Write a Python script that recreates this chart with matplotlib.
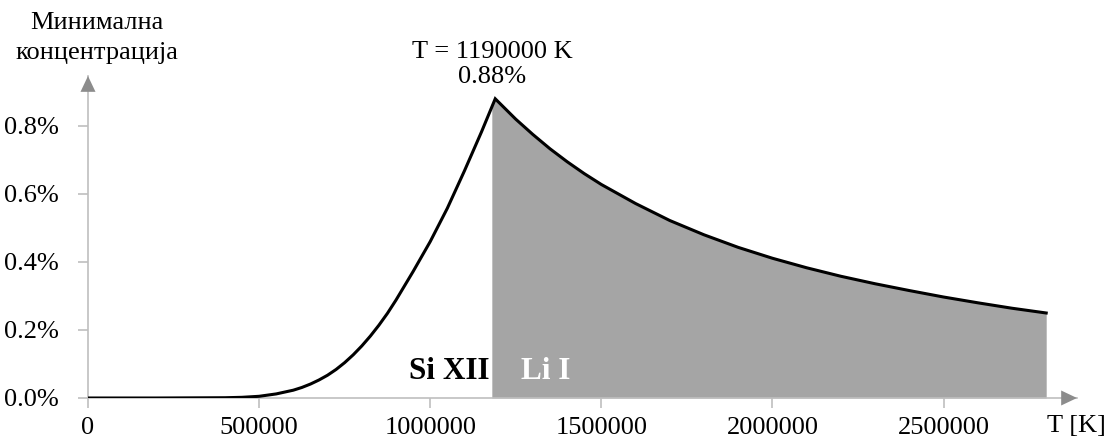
import numpy as np
import matplotlib.pyplot as plt

plt.rcParams['font.family'] = ['Liberation Serif', 'DejaVu Serif']

# rising branch (Si XII) up to the peak
t_si = [0, 200000, 400000, 450000, 500000, 550000, 600000, 625000, 650000, 675000,
        700000, 725000, 750000, 775000, 800000, 825000, 850000, 875000, 900000,
        950000, 1000000, 1050000, 1100000, 1150000, 1190000]
c_si = [0.0, 0.0, 0.0008, 0.002, 0.005, 0.012, 0.023, 0.031, 0.041, 0.053,
        0.067, 0.084, 0.104, 0.127, 0.153, 0.182, 0.214, 0.249, 0.288,
        0.372, 0.460, 0.558, 0.668, 0.783, 0.88]

# falling branch (Li I) after the peak
t_li = [1190000, 1225000, 1250000, 1300000, 1350000, 1400000, 1450000, 1500000,
        1600000, 1700000, 1800000, 1900000, 2000000, 2100000, 2200000, 2300000,
        2400000, 2500000, 2600000, 2700000, 2800000]
c_li = [0.88, 0.845, 0.820, 0.775, 0.733, 0.695, 0.660, 0.628, 0.572, 0.522,
        0.480, 0.443, 0.411, 0.383, 0.358, 0.336, 0.316, 0.297, 0.280, 0.264, 0.250]

fill_start = 1180000
peak_t, peak_c = 1190000, 0.88

x_ticks = [0, 500000, 1000000, 1500000, 2000000, 2500000]
y_ticks = [0.0, 0.2, 0.4, 0.6, 0.8]

W, H = 1110, 441
fig = plt.figure(figsize=(W / 100, H / 100), dpi=100)
# axes box in pixels: left 88, right 1077, bottom 398, top 76
ax = fig.add_axes([88 / W, (H - 398) / H, (1077 - 88) / W, (398 - 76) / H])
ax.set_xlim(0, 2890000)
ax.set_ylim(0, 0.947)

axis_col = '#bfbfbf'
head_col = '#8c8c8c'
fs = 19
tick_len = 7

t_all = np.array(t_si + t_li[1:])
c_all = np.array(c_si + c_li[1:])

# shaded Li I region
t_fill = np.array([fill_start] + t_li)
c_fill = np.interp(t_fill, t_all, c_all)
ax.fill_between(t_fill, 0, c_fill, color='#a5a5a5', lw=0, zorder=1)

ax.plot(t_all, c_all, color='black', lw=2.2, zorder=3, solid_joinstyle='miter')

for s in ['top', 'right']:
    ax.spines[s].set_visible(False)
for s in ['left', 'bottom']:
    ax.spines[s].set_color(axis_col)
    ax.spines[s].set_linewidth(1.2)

ax.set_xticks(x_ticks)
ax.set_xticklabels([str(v) for v in x_ticks])
ax.set_yticks(y_ticks)
ax.set_yticklabels(['%.1f%%' % v for v in y_ticks])
ax.tick_params(axis='both', direction='out', length=tick_len, width=1.2, color=axis_col,
               labelsize=fs, labelcolor='black')
ax.tick_params(axis='y', pad=14)
ax.tick_params(axis='x', pad=7)

# arrow heads on the axes
arr = dict(arrowstyle='-|>,head_length=0.95,head_width=0.45', mutation_scale=12,
           color=head_col, shrinkA=0, shrinkB=0, lw=0)
ax.annotate('', xy=(1, 0), xytext=(0.97, 0), xycoords='axes fraction', arrowprops=arr,
            annotation_clip=False)
ax.annotate('', xy=(0, 1), xytext=(0, 0.9), xycoords='axes fraction', arrowprops=arr,
            annotation_clip=False)

# labels
fig.text(97 / W, 1 - 23 / H, 'Минимална', ha='center', va='center', fontsize=fs)
fig.text(97 / W, 1 - 53 / H, 'концентрација', ha='center', va='center', fontsize=fs)
ax.annotate('T [K]', xy=(1076 / W, 0), xycoords=('figure fraction', 'axes fraction'),
            xytext=(0, -(tick_len * 0.72 + 7)), textcoords='offset points',
            ha='center', va='top', fontsize=fs)

ax.annotate('T = %d K\n%.2f%%' % (peak_t, peak_c), xy=(peak_t, peak_c),
            xytext=(-2, 8), textcoords='offset points', ha='center', va='bottom',
            fontsize=fs, linespacing=1.15)

ax.text(fill_start - 8000, 0.079, 'Si XII', ha='right', va='center', fontsize=22.5,
        fontweight='bold', color='black')
ax.text(1266000, 0.079, 'Li I', ha='left', va='center', fontsize=22.5,
        fontweight='bold', color='white')

fig.savefig('out.png', dpi=100)
